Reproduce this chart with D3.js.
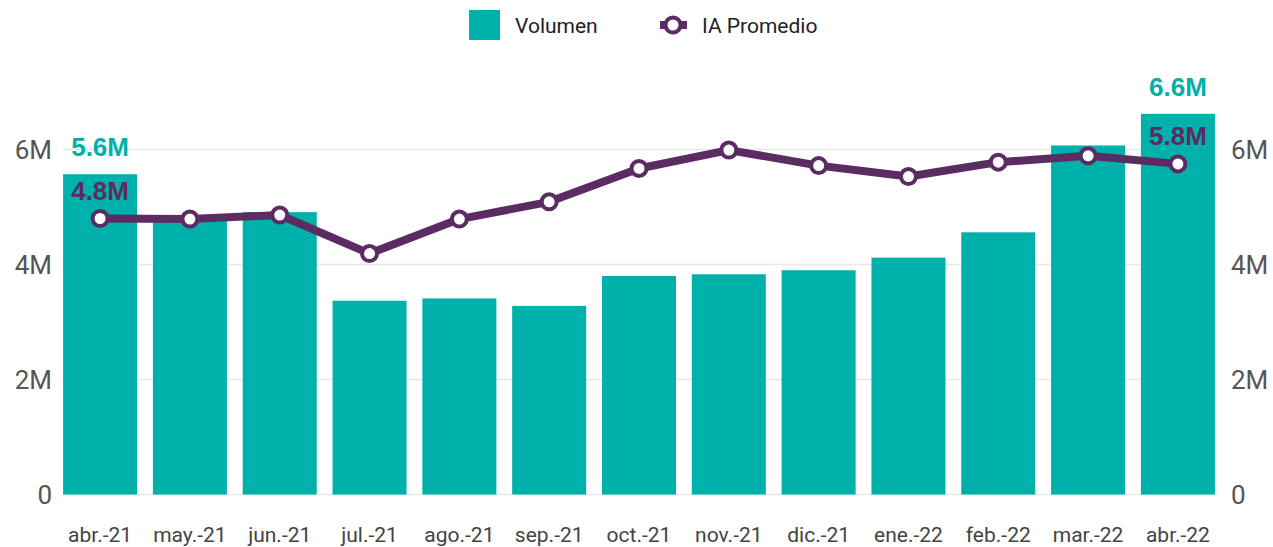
<!DOCTYPE html>
<html>
<head>
<meta charset="utf-8">
<script src="https://cdn.jsdelivr.net/npm/d3@7"></script>
<style>
  body { margin: 0; background: #fff; }
  svg { display: block; }
  .tick text { font-family: Roboto, sans-serif; }
</style>
</head>
<body>
<div id="chart"></div>
<script>
"use strict";

let months = ["abr.-21", "may.-21", "jun.-21", "jul.-21", "ago.-21", "sep.-21", "oct.-21",
  "nov.-21", "dic.-21", "ene.-22", "feb.-22", "mar.-22", "abr.-22"];
let volumen = [5.57, 4.78, 4.91, 3.37, 3.41, 3.28, 3.80, 3.83, 3.90, 4.12, 4.56, 6.07, 6.62];
let iaPromedio = [4.80, 4.79, 4.86, 4.19, 4.79, 5.09, 5.67, 5.99, 5.72, 5.53, 5.78, 5.89, 5.75];
let yTicks = [0, 2, 4, 6];

let width = 1273, height = 547;
let teal = "#00b0aa", purple = "#5a2c62";

let svg = d3.select("#chart").append("svg")
  .attr("width", width)
  .attr("height", height);

let x = d3.scaleBand()
  .domain(months)
  .range([55, 1223])
  .paddingInner(0.176)
  .paddingOuter(0.09);

let y = d3.scaleLinear()
  .domain([0, 6])
  .range([494.5, 149.5]);

let y2 = d3.scaleLinear()
  .domain([0, 6])
  .range([494.5, 149.5]);

let fmt = v => v === 0 ? "0" : v + "M";

// grid
svg.append("g")
  .selectAll("line")
  .data(yTicks)
  .enter().append("line")
  .attr("x1", 63).attr("x2", 1215)
  .attr("y1", d => y(d)).attr("y2", d => y(d))
  .attr("stroke", "#e8e8e8")
  .attr("stroke-width", 1.5);

// left axis
let leftAxis = svg.append("g")
  .attr("transform", "translate(52,0)")
  .call(d3.axisLeft(y).tickValues(yTicks).tickFormat(fmt).tickSize(0).tickPadding(0));
leftAxis.select(".domain").remove();
leftAxis.selectAll("text").attr("font-size", 26).attr("fill", "#555").attr("dy", "0.36em");

// right axis
let rightAxis = svg.append("g")
  .attr("transform", "translate(1231,0)")
  .call(d3.axisRight(y2).tickValues(yTicks).tickFormat(fmt).tickSize(0).tickPadding(0));
rightAxis.select(".domain").remove();
rightAxis.selectAll("text").attr("font-size", 26).attr("fill", "#555").attr("dy", "0.36em");

// x axis
let xAxis = svg.append("g")
  .attr("transform", "translate(0,522)")
  .call(d3.axisBottom(x).tickSize(0).tickPadding(0));
xAxis.select(".domain").remove();
xAxis.selectAll("text").attr("font-size", 21).attr("fill", "#444").attr("dy", "0.95em");

// bars
svg.append("g")
  .selectAll("rect")
  .data(volumen)
  .enter().append("rect")
  .attr("x", (d, i) => x(months[i]))
  .attr("width", x.bandwidth())
  .attr("y", d => y(d))
  .attr("height", d => y(0) - y(d))
  .attr("fill", teal);

// line
let line = d3.line()
  .x((d, i) => x(months[i]) + x.bandwidth() / 2)
  .y(d => y2(d));

svg.append("path")
  .datum(iaPromedio)
  .attr("d", line)
  .attr("fill", "none")
  .attr("stroke", purple)
  .attr("stroke-width", 8)
  .attr("stroke-linejoin", "round");

svg.append("g")
  .selectAll("circle")
  .data(iaPromedio)
  .enter().append("circle")
  .attr("cx", (d, i) => x(months[i]) + x.bandwidth() / 2)
  .attr("cy", d => y2(d))
  .attr("r", 7.5)
  .attr("fill", "#fff")
  .attr("stroke", purple)
  .attr("stroke-width", 4);

// data labels on first and last month
let labelIdx = [0, months.length - 1];
let labels = svg.append("g")
  .attr("font-family", "'Liberation Sans', Arial, sans-serif")
  .attr("font-weight", "bold")
  .attr("font-size", 26)
  .attr("text-anchor", "middle");

labels.selectAll(".volLabel")
  .data(labelIdx)
  .enter().append("text")
  .attr("class", "volLabel")
  .attr("x", i => x(months[i]) + x.bandwidth() / 2)
  .attr("y", i => y(volumen[i]) - 18)
  .attr("fill", teal)
  .text(i => volumen[i].toFixed(1) + "M");

labels.selectAll(".iaLabel")
  .data(labelIdx)
  .enter().append("text")
  .attr("class", "iaLabel")
  .attr("x", i => x(months[i]) + x.bandwidth() / 2)
  .attr("y", i => y2(iaPromedio[i]) - 19)
  .attr("fill", purple)
  .text(i => iaPromedio[i].toFixed(1) + "M");

// legend
let legend = svg.append("g")
  .attr("font-family", "Roboto, sans-serif")
  .attr("font-size", 21)
  .attr("fill", "#222");

legend.append("rect")
  .attr("x", 469).attr("y", 10)
  .attr("width", 31).attr("height", 30)
  .attr("fill", teal);
legend.append("text")
  .attr("x", 515).attr("y", 33)
  .text("Volumen");

legend.append("line")
  .attr("x1", 660).attr("x2", 687)
  .attr("y1", 25).attr("y2", 25)
  .attr("stroke", purple)
  .attr("stroke-width", 8);
legend.append("circle")
  .attr("cx", 673).attr("cy", 25)
  .attr("r", 7.5)
  .attr("fill", "#fff")
  .attr("stroke", purple)
  .attr("stroke-width", 4);
legend.append("text")
  .attr("x", 702).attr("y", 33)
  .text("IA Promedio");
</script>
</body>
</html>
